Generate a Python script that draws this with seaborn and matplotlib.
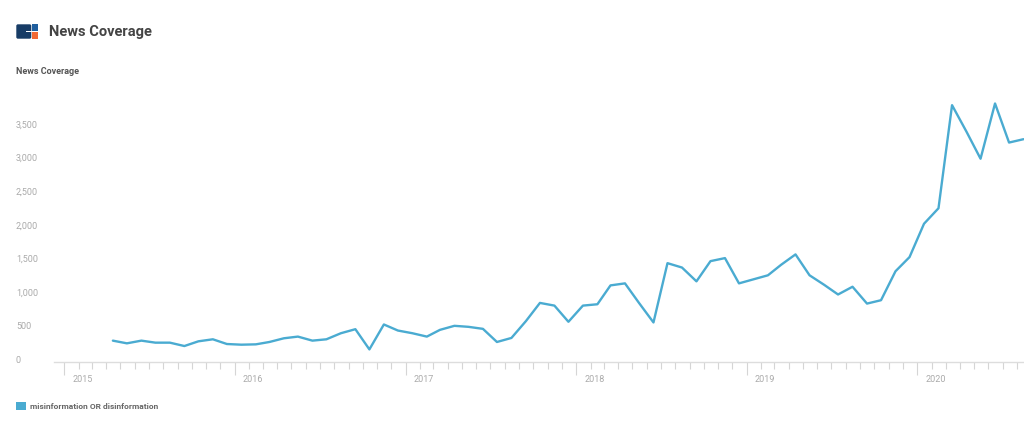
import matplotlib
matplotlib.use("Agg")
import matplotlib.pyplot as plt
import matplotlib.dates as mdates
import matplotlib.ticker as mticker
import matplotlib.transforms as mtransforms
from matplotlib.patches import Patch, Rectangle, FancyBboxPatch
import pandas as pd
import seaborn as sns

# monthly news coverage counts, Apr 2015 - Aug 2020
first_month = "2015-04-01"
coverage = [
    280, 240, 280, 250, 250, 200, 270, 300, 230,
    220, 225, 260, 315, 340, 280, 300, 390, 450, 150, 520, 430,
    390, 340, 440, 500, 485, 455, 260, 320, 570, 840, 800, 560,
    800, 820, 1100, 1130, 840, 550, 1430, 1365, 1160, 1460, 1505, 1130,
    1190, 1250, 1405, 1560, 1250, 1110, 965, 1080, 830, 880, 1310, 1520,
    2015, 2245, 3775, 3380, 2980, 3800, 3220, 3270,
]
series_name = "misinformation OR disinformation"
y_ticks = [0, 500, 1000, 1500, 2000, 2500, 3000, 3500]

months = pd.date_range(first_month, periods=len(coverage), freq="MS") + pd.Timedelta(days=14)
df = pd.DataFrame({"date": months, "count": coverage})

sns.set_style("white")
plt.rcParams["font.family"] = ["Roboto", "DejaVu Sans"]

line_color = "#4aabd1"
W, H = 1024, 433
fig = plt.figure(figsize=(W / 100, H / 100), dpi=100)

# main axes, placed in pixel terms
left, right, top, bottom = 54, 1024, 90, 362
ax = fig.add_axes([left / W, (H - bottom) / H, (right - left) / W, (bottom - top) / H])

sns.lineplot(data=df, x="date", y="count", ax=ax, color=line_color, linewidth=1.7)

ax.set_xlim(pd.Timestamp("2014-12-10"), pd.Timestamp("2020-08-16"))
ax.set_ylim(-37, 4000)
ax.set_xlabel("")
ax.set_ylabel("")

for s in ["top", "right", "left"]:
    ax.spines[s].set_visible(False)
ax.spines["bottom"].set_color("#dddddd")
ax.spines["bottom"].set_linewidth(1)

ax.set_yticks(y_ticks)
ax.yaxis.set_major_formatter(mticker.FuncFormatter(lambda v, p: f"{int(v):,}"))
ax.tick_params(axis="y", left=False, length=0, pad=27.4, labelsize=6.5, labelcolor="#aaaaaa")
for lab in ax.get_yticklabels():
    lab.set_horizontalalignment("left")

ax.xaxis.set_major_locator(mdates.YearLocator())
ax.xaxis.set_major_formatter(mdates.DateFormatter("%Y"))
ax.xaxis.set_minor_locator(mdates.MonthLocator())
ax.tick_params(axis="x", which="both", bottom=True, direction="out")
ax.tick_params(axis="x", which="major", length=9, width=0.8, color="#d5d5d5",
               pad=-1, labelsize=6.5, labelcolor="#aaaaaa")
ax.tick_params(axis="x", which="minor", length=5, width=0.8, color="#d5d5d5")
offset = mtransforms.ScaledTranslation(8 / 100, -2 / 100, fig.dpi_scale_trans)
for lab in ax.get_xticklabels():
    lab.set_horizontalalignment("left")
    lab.set_transform(lab.get_transform() + offset)

ax.grid(False)

# header
fig.text(49 / W, 1 - 32 / H, "News Coverage", fontsize=10.5, fontweight="bold",
         color="#444444", va="center", ha="left")
fig.text(16 / W, 1 - 72 / H, "News Coverage", fontsize=6.5, fontweight="bold",
         color="#555555", va="center", ha="left")

# small logo
logo = fig.add_axes([16 / W, 1 - 39 / H, 22 / W, 15 / H])
logo.set_xlim(0, 22)
logo.set_ylim(0, 15)
logo.axis("off")
logo.add_patch(FancyBboxPatch((0.3, 0.3), 15.0, 14.4, boxstyle="round,pad=0,rounding_size=1.6",
                              color="#173c66", lw=0))
logo.add_patch(Rectangle((10.0, 6.8), 5.5, 1.5, color="white", lw=0))
logo.add_patch(Rectangle((16.2, 8.2), 5.5, 6.5, color="#1f5f9e", lw=0))
logo.add_patch(Rectangle((16.2, 0.3), 5.5, 6.7, color="#f26a35", lw=0))

# legend
fig.legend(handles=[Patch(facecolor=line_color, edgecolor="none")], labels=[series_name],
           loc="center left", bbox_to_anchor=(16 / W, 1 - 406 / H), frameon=False,
           handlelength=1.2, handleheight=1.2, handletextpad=0.5, borderpad=0,
           borderaxespad=0, prop={"size": 6, "weight": "bold"}, labelcolor="#666666")

fig.savefig("out.png", dpi=100)
